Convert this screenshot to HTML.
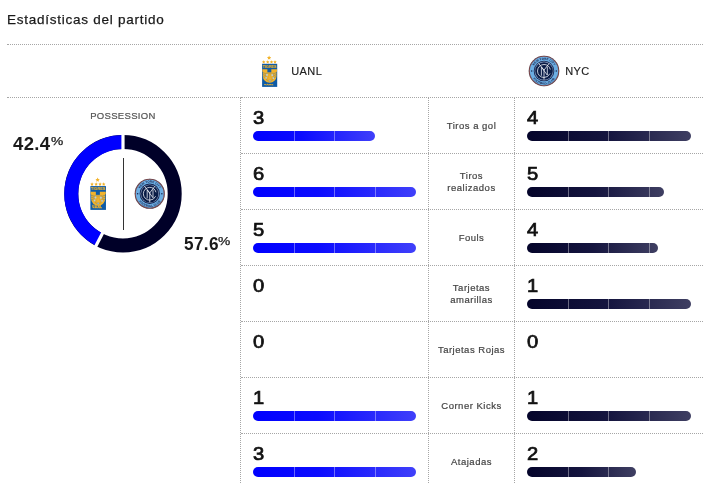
<!DOCTYPE html>
<html lang="es">
<head>
<meta charset="utf-8">
<title>Estadísticas del partido</title>
<style>
html,body{margin:0;padding:0;background:#fff;}
body{width:711px;height:483px;position:relative;overflow:hidden;font-family:"Liberation Sans",sans-serif;color:#1a1a1a;}
.abs{position:absolute;}
.hl{position:absolute;height:1px;background:linear-gradient(#a6a6a6,#a6a6a6) 0 0/1px 1px no-repeat,repeating-linear-gradient(90deg,transparent 0 1px,#a6a6a6 1px 2px);}
.vl{position:absolute;width:1px;background:repeating-linear-gradient(180deg,#a6a6a6 0 1px,transparent 1px 2px);}
.title{left:7px;top:11px;font-size:13.5px;line-height:18px;color:#1a1a1a;white-space:nowrap;letter-spacing:.75px;-webkit-text-stroke:.25px #1a1a1a;}
.team{font-size:11px;line-height:14px;color:#222;white-space:nowrap;letter-spacing:.45px;-webkit-text-stroke:.15px #222;}
.poslabel{font-size:9.5px;line-height:12px;color:#555;white-space:nowrap;letter-spacing:.32px;-webkit-text-stroke:.2px #555;}
.pct{font-size:18.5px;font-weight:bold;line-height:20px;color:#1a1a1a;white-space:nowrap;letter-spacing:.35px;}
.pct sup{font-size:11.5px;font-weight:normal;vertical-align:top;line-height:12px;position:relative;top:1.2px;margin-left:.9px;display:inline-block;-webkit-text-stroke:.25px #1a1a1a;transform:scaleX(1.2);transform-origin:0 0;letter-spacing:0;}
.num{font-size:18px;font-weight:normal;line-height:18px;color:#111;white-space:nowrap;-webkit-text-stroke:.72px #111;transform:scaleX(1.12);transform-origin:0 0;}
.bar{position:absolute;height:10px;border-radius:5px;overflow:hidden;}
.bar i{position:absolute;left:0;top:0;height:10px;display:block;}
.barL i{width:100%;background:linear-gradient(90deg,#0000ff 0%,#0c0cff 40%,#4040fa 100%);}
.barR i{width:100%;background:linear-gradient(90deg,#04042a 0%,#15153f 50%,#3f3f62 100%);}
.bar b{position:absolute;top:0;width:1px;height:10px;background:rgba(255,255,255,.38);}
.lab{position:absolute;left:429px;width:85px;text-align:center;font-size:9.5px;line-height:12px;color:#444;letter-spacing:.5px;-webkit-text-stroke:.2px #444;}
</style>
</head>
<body>
<div class="abs title">Estadísticas del partido</div>
<div class="hl" style="left:7px;top:44px;width:696px"></div>
<div class="hl" style="left:7px;top:97px;width:234px"></div>
<div class="hl" style="left:241px;top:97px;width:462px"></div>
<div class="hl" style="left:241px;top:153px;width:462px"></div>
<div class="hl" style="left:241px;top:209px;width:462px"></div>
<div class="hl" style="left:241px;top:265px;width:462px"></div>
<div class="hl" style="left:241px;top:321px;width:462px"></div>
<div class="hl" style="left:241px;top:377px;width:462px"></div>
<div class="hl" style="left:241px;top:433px;width:462px"></div>
<div class="vl" style="left:240px;top:98px;height:385px"></div>
<div class="vl" style="left:428px;top:98px;height:385px"></div>
<div class="vl" style="left:514px;top:98px;height:385px"></div>

<!-- header teams -->
<svg class="abs" style="left:253px;top:55px" width="32" height="32" viewBox="0 0 32 32">
  <g fill="#f2b32c"><polygon points="16.10,0.60 16.75,1.91 18.19,2.12 17.15,3.14 17.39,4.58 16.10,3.90 14.81,4.58 15.05,3.14 14.01,2.12 15.45,1.91"/><polygon points="10.70,5.20 11.23,6.27 12.41,6.44 11.56,7.28 11.76,8.46 10.70,7.90 9.64,8.46 9.84,7.28 8.99,6.44 10.17,6.27"/><polygon points="14.70,5.20 15.23,6.27 16.41,6.44 15.56,7.28 15.76,8.46 14.70,7.90 13.64,8.46 13.84,7.28 12.99,6.44 14.17,6.27"/><polygon points="18.50,5.20 19.03,6.27 20.21,6.44 19.36,7.28 19.56,8.46 18.50,7.90 17.44,8.46 17.64,7.28 16.79,6.44 17.97,6.27"/><polygon points="22.00,5.20 22.53,6.27 23.71,6.44 22.86,7.28 23.06,8.46 22.00,7.90 20.94,8.46 21.14,7.28 20.29,6.44 21.47,6.27"/></g>
  <rect x="9.1" y="8.8" width="15.1" height="23.1" fill="#0f5ba6"/>
  <text x="16.65" y="12.9" font-family="Liberation Sans, sans-serif" font-size="4.2" font-weight="bold" text-anchor="middle" textLength="13.7" lengthAdjust="spacingAndGlyphs" fill="#f2b32c" stroke="#f2b32c" stroke-width="0.12">TIGRES</text>
  <path d="M9.3 14.2H24V16.5L23.5 17V21.2A6.85 6.6 0 0 1 9.8 21.2V17L9.3 16.5Z" fill="#f2b32c"/>
  <rect x="14.4" y="13.5" width="3.9" height="3.8" fill="#0f5ba6"/>
  <g stroke="#0f5ba6" stroke-width="0.5" opacity="0.7">
    <line x1="9.6" y1="17.6" x2="12.6" y2="18.6"/><line x1="9.9" y1="19.6" x2="12.4" y2="20.5"/><line x1="10.2" y1="21.7" x2="12.3" y2="22.4"/>
    <line x1="23.7" y1="17.6" x2="20.7" y2="18.6"/><line x1="23.4" y1="19.6" x2="20.9" y2="20.5"/><line x1="23.1" y1="21.7" x2="21" y2="22.4"/>
  </g>
  <path d="M12.9 18.2V21.9A3.75 4.3 0 0 0 20.4 21.9V18.2Z" fill="#eab53a" stroke="#0f5ba6" stroke-width="0.4" stroke-opacity="0.55"/>
  <g fill="#b4cfea"><ellipse cx="14" cy="19.9" rx="0.9" ry="0.95"/><ellipse cx="19.3" cy="20.1" rx="0.9" ry="0.95"/><ellipse cx="13.1" cy="22.8" rx="0.8" ry="0.9"/><ellipse cx="20.4" cy="23.1" rx="0.8" ry="0.9"/></g>
  <polygon points="15.9,18.7 17.5,18.7 17.5,20.6 19.2,24.9 14.1,24.9 15.8,20.6" fill="#f2b32c" stroke="#b98a2a" stroke-width="0.25"/>
  <circle cx="16.7" cy="25.6" r="0.9" fill="#8fb0c8"/>
  <text x="15.7" y="30.3" font-family="Liberation Sans, sans-serif" font-size="2.5" font-weight="bold" text-anchor="middle" fill="#f2b32c" stroke="#f2b32c" stroke-width="0.25">U.A.N.L</text>
</svg>
<div class="abs team" style="left:291.2px;top:64.2px">UANL</div>
<svg class="abs" style="left:527.5px;top:55.4px" width="32" height="32" viewBox="-16 -16 32 32">
  <circle r="15.3" fill="#45324a"/>
  <circle r="14.7" fill="none" stroke="#b5624a" stroke-width="0.6"/>
  <circle r="14.15" fill="#6cade2"/>
  <circle r="10.3" fill="#15244f"/>
  <circle r="9.45" fill="#8a9dbf"/>
  <circle r="8.8" fill="#0a1c46"/>
  <path id="tn1" d="M-11.3 0A11.3 11.3 0 0 1 11.3 0" fill="none"/>
  <path id="bn1" d="M-13.4 0A13.4 13.4 0 0 0 13.4 0" fill="none"/>
  <text font-family="Liberation Sans, sans-serif" font-size="3" font-weight="bold" fill="#16244d" text-anchor="middle"><textPath href="#tn1" startOffset="50%">NEW YORK CITY</textPath></text>
  <text font-family="Liberation Sans, sans-serif" font-size="3" font-weight="bold" fill="#16244d" text-anchor="middle"><textPath href="#bn1" startOffset="50%">FOOTBALL CLUB</textPath></text>
  <circle cx="-12.3" cy="0" r="0.75" fill="#16244d"/><circle cx="12.3" cy="0" r="0.75" fill="#16244d"/>
  <g fill="none" stroke="#eef1f7" stroke-width="0.8" stroke-linecap="round" stroke-linejoin="round">
    <circle r="6.5" stroke-dasharray="34.84 6" stroke-dashoffset="-3"/>
    <polyline points="-5.2,-7.4 0,-0.9 5,-7.4"/><line x1="0" y1="-0.9" x2="0" y2="8.3"/>
    <polyline points="-2.6,4.3 -2.6,-3.9 3.3,4.1 3.3,-4"/>
  </g>
</svg>
<div class="abs team" style="left:565.2px;top:64.2px">NYC</div>

<!-- possession -->
<div class="abs poslabel" style="left:90.2px;top:109.5px">POSSESSION</div>
<div class="abs pct" style="left:13px;top:134px">42.4<sup>%</sup></div>
<div class="abs pct" style="left:183.9px;top:234px;transform:scaleX(.93);transform-origin:0 0">57.6</div>
<div class="abs pct" style="left:217.6px;top:234px"><sup>%</sup></div>
<svg class="abs" style="left:63px;top:133px" width="121" height="122" viewBox="-60 -60.7 121 122">
  <circle r="51.7" fill="none" stroke="#000028" stroke-width="14"/>
  <path d="M0 -51.7 A51.7 51.7 0 0 0 -23.79 45.90" fill="none" stroke="#0000ff" stroke-width="14"/>
  <line x1="0" y1="-42" x2="0" y2="-62" stroke="#fff" stroke-width="3.2"/>
  <line x1="-19.33" y1="37.29" x2="-28.53" y2="55.04" stroke="#fff" stroke-width="3.2"/>
</svg>
<div class="abs" style="left:123px;top:158px;width:1px;height:72px;background:#333"></div>
<svg class="abs" style="left:81.2px;top:177.3px" width="33" height="33" viewBox="0 0 32 32">
  <g fill="#f2b32c"><polygon points="16.10,0.60 16.75,1.91 18.19,2.12 17.15,3.14 17.39,4.58 16.10,3.90 14.81,4.58 15.05,3.14 14.01,2.12 15.45,1.91"/><polygon points="10.70,5.20 11.23,6.27 12.41,6.44 11.56,7.28 11.76,8.46 10.70,7.90 9.64,8.46 9.84,7.28 8.99,6.44 10.17,6.27"/><polygon points="14.70,5.20 15.23,6.27 16.41,6.44 15.56,7.28 15.76,8.46 14.70,7.90 13.64,8.46 13.84,7.28 12.99,6.44 14.17,6.27"/><polygon points="18.50,5.20 19.03,6.27 20.21,6.44 19.36,7.28 19.56,8.46 18.50,7.90 17.44,8.46 17.64,7.28 16.79,6.44 17.97,6.27"/><polygon points="22.00,5.20 22.53,6.27 23.71,6.44 22.86,7.28 23.06,8.46 22.00,7.90 20.94,8.46 21.14,7.28 20.29,6.44 21.47,6.27"/></g>
  <rect x="9.1" y="8.8" width="15.1" height="23.1" fill="#0f5ba6"/>
  <text x="16.65" y="12.9" font-family="Liberation Sans, sans-serif" font-size="4.2" font-weight="bold" text-anchor="middle" textLength="13.7" lengthAdjust="spacingAndGlyphs" fill="#f2b32c" stroke="#f2b32c" stroke-width="0.12">TIGRES</text>
  <path d="M9.3 14.2H24V16.5L23.5 17V21.2A6.85 6.6 0 0 1 9.8 21.2V17L9.3 16.5Z" fill="#f2b32c"/>
  <rect x="14.4" y="13.5" width="3.9" height="3.8" fill="#0f5ba6"/>
  <g stroke="#0f5ba6" stroke-width="0.5" opacity="0.7">
    <line x1="9.6" y1="17.6" x2="12.6" y2="18.6"/><line x1="9.9" y1="19.6" x2="12.4" y2="20.5"/><line x1="10.2" y1="21.7" x2="12.3" y2="22.4"/>
    <line x1="23.7" y1="17.6" x2="20.7" y2="18.6"/><line x1="23.4" y1="19.6" x2="20.9" y2="20.5"/><line x1="23.1" y1="21.7" x2="21" y2="22.4"/>
  </g>
  <path d="M12.9 18.2V21.9A3.75 4.3 0 0 0 20.4 21.9V18.2Z" fill="#eab53a" stroke="#0f5ba6" stroke-width="0.4" stroke-opacity="0.55"/>
  <g fill="#b4cfea"><ellipse cx="14" cy="19.9" rx="0.9" ry="0.95"/><ellipse cx="19.3" cy="20.1" rx="0.9" ry="0.95"/><ellipse cx="13.1" cy="22.8" rx="0.8" ry="0.9"/><ellipse cx="20.4" cy="23.1" rx="0.8" ry="0.9"/></g>
  <polygon points="15.9,18.7 17.5,18.7 17.5,20.6 19.2,24.9 14.1,24.9 15.8,20.6" fill="#f2b32c" stroke="#b98a2a" stroke-width="0.25"/>
  <circle cx="16.7" cy="25.6" r="0.9" fill="#8fb0c8"/>
  <text x="15.7" y="30.3" font-family="Liberation Sans, sans-serif" font-size="2.5" font-weight="bold" text-anchor="middle" fill="#f2b32c" stroke="#f2b32c" stroke-width="0.25">U.A.N.L</text>
</svg>
<svg class="abs" style="left:133.7px;top:178.45px" width="31.5" height="31.5" viewBox="-16 -16 32 32">
  <circle r="15.3" fill="#45324a"/>
  <circle r="14.7" fill="none" stroke="#b5624a" stroke-width="0.6"/>
  <circle r="14.15" fill="#6cade2"/>
  <circle r="10.3" fill="#15244f"/>
  <circle r="9.45" fill="#8a9dbf"/>
  <circle r="8.8" fill="#0a1c46"/>
  <path id="tn2" d="M-11.3 0A11.3 11.3 0 0 1 11.3 0" fill="none"/>
  <path id="bn2" d="M-13.4 0A13.4 13.4 0 0 0 13.4 0" fill="none"/>
  <text font-family="Liberation Sans, sans-serif" font-size="3" font-weight="bold" fill="#16244d" text-anchor="middle"><textPath href="#tn2" startOffset="50%">NEW YORK CITY</textPath></text>
  <text font-family="Liberation Sans, sans-serif" font-size="3" font-weight="bold" fill="#16244d" text-anchor="middle"><textPath href="#bn2" startOffset="50%">FOOTBALL CLUB</textPath></text>
  <circle cx="-12.3" cy="0" r="0.75" fill="#16244d"/><circle cx="12.3" cy="0" r="0.75" fill="#16244d"/>
  <g fill="none" stroke="#eef1f7" stroke-width="0.8" stroke-linecap="round" stroke-linejoin="round">
    <circle r="6.5" stroke-dasharray="34.84 6" stroke-dashoffset="-3"/>
    <polyline points="-5.2,-7.4 0,-0.9 5,-7.4"/><line x1="0" y1="-0.9" x2="0" y2="8.3"/>
    <polyline points="-2.6,4.3 -2.6,-3.9 3.3,4.1 3.3,-4"/>
  </g>
</svg>

<!-- row 1 -->
<div class="abs num" style="left:253px;top:109px">3</div>
<div class="bar barL" style="left:253px;top:131px;width:122.2px"><i></i><b style="left:41px"></b><b style="left:81px"></b></div>
<div class="lab" style="top:120px">Tiros a gol</div>
<div class="abs num" style="left:527px;top:109px">4</div>
<div class="bar barR" style="left:527px;top:131px;width:164.0px"><i></i><b style="left:41px"></b><b style="left:81px"></b><b style="left:122px"></b></div>
<!-- row 2 -->
<div class="abs num" style="left:253px;top:165px">6</div>
<div class="bar barL" style="left:253px;top:187px;width:163.0px"><i></i><b style="left:41px"></b><b style="left:81px"></b><b style="left:122px"></b></div>
<div class="lab" style="top:170px">Tiros<br>realizados</div>
<div class="abs num" style="left:527px;top:165px">5</div>
<div class="bar barR" style="left:527px;top:187px;width:136.7px"><i></i><b style="left:41px"></b><b style="left:81px"></b><b style="left:122px"></b></div>
<!-- row 3 -->
<div class="abs num" style="left:253px;top:221px">5</div>
<div class="bar barL" style="left:253px;top:243px;width:163.0px"><i></i><b style="left:41px"></b><b style="left:81px"></b><b style="left:122px"></b></div>
<div class="lab" style="top:232px">Fouls</div>
<div class="abs num" style="left:527px;top:221px">4</div>
<div class="bar barR" style="left:527px;top:243px;width:131.2px"><i></i><b style="left:41px"></b><b style="left:81px"></b><b style="left:122px"></b></div>
<!-- row 4 -->
<div class="abs num" style="left:253px;top:277px">0</div>
<div class="lab" style="top:282px">Tarjetas<br>amarillas</div>
<div class="abs num" style="left:527px;top:277px">1</div>
<div class="bar barR" style="left:527px;top:299px;width:164.0px"><i></i><b style="left:41px"></b><b style="left:81px"></b><b style="left:122px"></b></div>
<!-- row 5 -->
<div class="abs num" style="left:253px;top:333px">0</div>
<div class="lab" style="top:344px">Tarjetas Rojas</div>
<div class="abs num" style="left:527px;top:333px">0</div>
<!-- row 6 -->
<div class="abs num" style="left:253px;top:389px">1</div>
<div class="bar barL" style="left:253px;top:411px;width:163.0px"><i></i><b style="left:41px"></b><b style="left:81px"></b><b style="left:122px"></b></div>
<div class="lab" style="top:400px">Corner Kicks</div>
<div class="abs num" style="left:527px;top:389px">1</div>
<div class="bar barR" style="left:527px;top:411px;width:164.0px"><i></i><b style="left:41px"></b><b style="left:81px"></b><b style="left:122px"></b></div>
<!-- row 7 -->
<div class="abs num" style="left:253px;top:445px">3</div>
<div class="bar barL" style="left:253px;top:467px;width:163.0px"><i></i><b style="left:41px"></b><b style="left:81px"></b><b style="left:122px"></b></div>
<div class="lab" style="top:456px">Atajadas</div>
<div class="abs num" style="left:527px;top:445px">2</div>
<div class="bar barR" style="left:527px;top:467px;width:109.3px"><i></i><b style="left:41px"></b><b style="left:81px"></b></div>
</body>
</html>
